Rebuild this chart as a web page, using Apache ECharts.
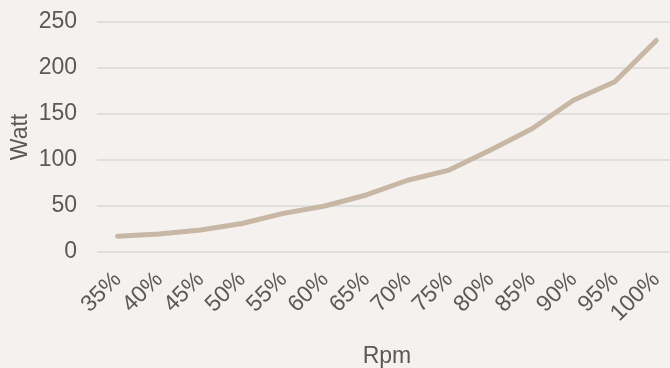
<!DOCTYPE html>
<html>
<head>
<meta charset="utf-8">
<script src="https://cdn.jsdelivr.net/npm/echarts@6/dist/echarts.min.js"></script>
<style>
  html, body { margin: 0; padding: 0; background: #f4f1ee; }
  #chart { width: 670px; height: 368px; }
</style>
</head>
<body>
<div id="chart"></div>
<script>
// rpm steps and power draw
var rpm = ['35%', '40%', '45%', '50%', '55%', '60%', '65%', '70%', '75%', '80%', '85%', '90%', '95%', '100%'];
var watt = [17, 19.5, 24, 31, 42, 50, 62, 78, 89, 111, 134, 165, 185, 230];
var yTicks = { min: 0, max: 250, interval: 50 };

var textColor = '#595959';
var font = 'Liberation Sans, Arial, sans-serif';

var chart = echarts.init(document.getElementById('chart'));
chart.setOption({
  backgroundColor: '#f4f1ee',
  animation: false,
  grid: { left: 97, right: -7, top: 22, bottom: 116, outerBoundsMode: 'none', containLabel: false },
  xAxis: {
    type: 'category',
    data: rpm,
    boundaryGap: true,
    name: 'Rpm',
    nameLocation: 'middle',
    nameGap: 93,
    nameMoveOverlap: false,
    nameTextStyle: { color: textColor, fontSize: 23, fontFamily: font, verticalAlign: 'top' },
    axisLine: { show: false },
    axisTick: { show: false },
    axisLabel: { rotate: 45, color: textColor, fontSize: 23, fontFamily: font, margin: 24, interval: 0 }
  },
  yAxis: {
    type: 'value',
    min: yTicks.min,
    max: yTicks.max,
    interval: yTicks.interval,
    name: 'Watt',
    nameLocation: 'middle',
    nameGap: 65,
    nameMoveOverlap: false,
    nameTextStyle: { color: textColor, fontSize: 23, fontFamily: font },
    axisLine: { show: false },
    axisTick: { show: false },
    axisLabel: { color: textColor, fontSize: 23, fontFamily: font, margin: 20 },
    splitLine: { lineStyle: { color: '#d9d9d9', width: 1.5 } }
  },
  series: [{
    type: 'line',
    data: watt,
    symbol: 'none',
    lineStyle: { color: '#c8b7a5', width: 5, cap: 'round', join: 'round' }
  }]
});
</script>
</body>
</html>
